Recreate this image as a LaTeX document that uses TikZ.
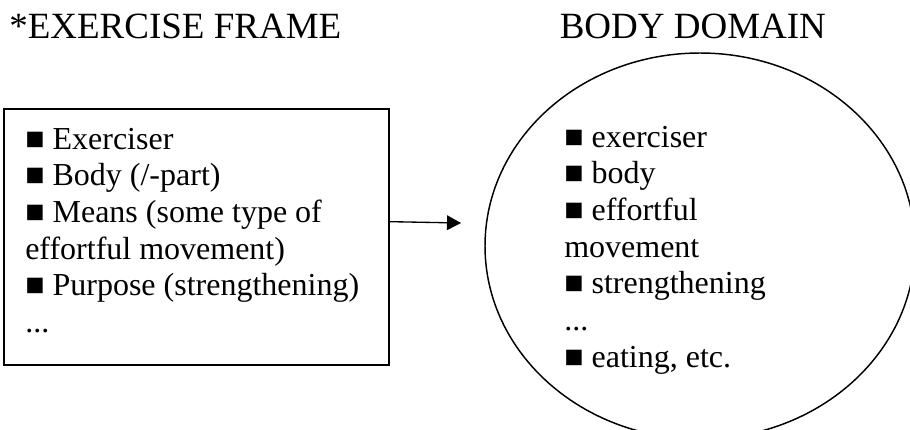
\documentclass[tikz,border=0pt]{standalone}
\usepackage{fontspec}
\setmainfont{Liberation Serif}
\usetikzlibrary{shapes.geometric,arrows.meta}
\begin{document}
\begin{tikzpicture}[x=0.75pt,y=-0.75pt,
  titletext/.style={anchor=base west, inner sep=0pt, font=\fontsize{27.75pt}{33pt}\selectfont},
  listtext/.style={anchor=base west, inner sep=0pt, align=left, font=\fontsize{24pt}{27.5pt}\selectfont},
  framebox/.style={draw, line width=1.5pt, rectangle, inner sep=0pt, minimum width=288.75pt, minimum height=192pt},
  domainshape/.style={draw, line width=1.1pt, ellipse, inner sep=0pt, minimum width=322.5pt, minimum height=289.5pt},
  link/.style={line width=1pt, -{Triangle[length=10.5pt, width=11pt]}}
]
\useasboundingbox (0,0) rectangle (910,429);
\clip (0,0) rectangle (910,429);
\node[titletext] (t1) at (9,38.3) {*EXERCISE FRAME};
\node[titletext] (t2) at (559.5,38.3) {BODY DOMAIN};
\node[framebox] (frame) at (196.5,237) {};
\node[domainshape] (dom) at (700,246) {};
% anchor base = baseline of the last line
\node[listtext] (flist) at (25,332.5) {■ Exerciser\\■ Body (/-part)\\■ Means (some type of\\effortful movement)\\■ Purpose (strengthening)\\...};
\node[listtext] (dlist) at (564,367) {■ exerciser\\■ body\\■ effortful\\movement\\■ strengthening\\...\\■ eating, etc.};
\coordinate (tip) at (461,223);
\draw[link] ([yshift=11.5pt]frame.east) -- (tip);
\end{tikzpicture}
\end{document}
